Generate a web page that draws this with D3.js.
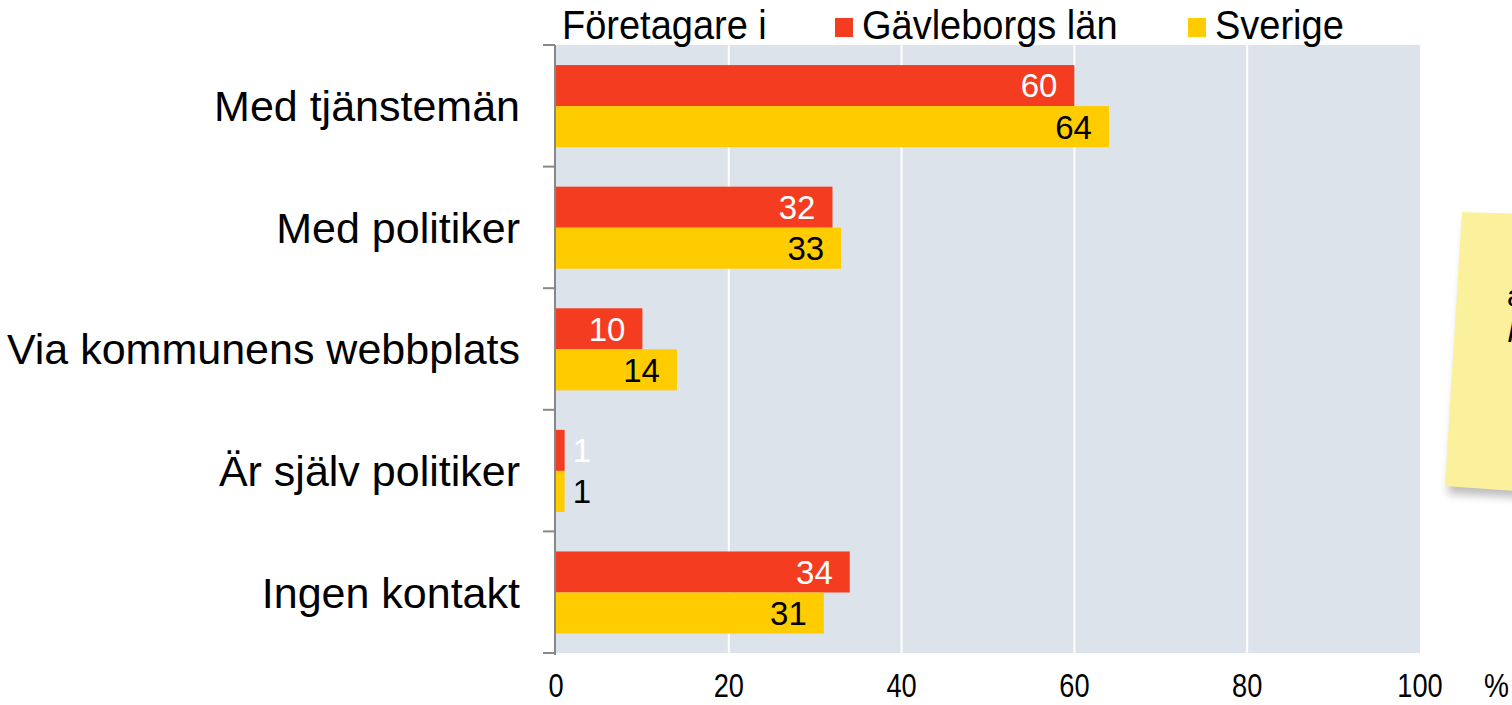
<!DOCTYPE html>
<html>
<head>
<meta charset="utf-8">
<script src="https://cdn.jsdelivr.net/npm/d3@7"></script>
<style>
  body { margin: 0; background: #fff; overflow: hidden; }
  svg { display: block; font-family: "Liberation Sans", Arial, sans-serif; }
</style>
</head>
<body>
<svg id="chart" width="1512" height="705"></svg>
<script>
// data
const categories = ["Med tjänstemän", "Med politiker", "Via kommunens webbplats", "Är själv politiker", "Ingen kontakt"];
const gavleborg = [60, 32, 10, 1, 34];
const sverige = [64, 33, 14, 1, 31];
const seriesNames = ["Gävleborgs län", "Sverige"];
const xTicks = [0, 20, 40, 60, 80, 100];

const svg = d3.select("#chart");
const margin = { top: 45, left: 556, right: 92, bottom: 52 };
const width = 1512 - margin.left - margin.right;
const height = 705 - margin.top - margin.bottom;

const red = "#f43d20";
const yellow = "#ffcc00";

const x = d3.scaleLinear().domain([0, 100]).range([0, width]);
const y = d3.scaleBand().domain(categories).range([0, height]);
const inner = d3.scaleBand().domain(seriesNames).range([y.bandwidth() * 0.165, y.bandwidth() * 0.84]);

const g = svg.append("g").attr("transform", `translate(${margin.left},${margin.top})`);

// plot background
g.append("rect")
    .attr("width", width)
    .attr("height", height)
    .attr("fill", "#dde3ea");

// vertical gridlines
g.selectAll(".grid")
    .data(xTicks.slice(1, -1))
    .enter().append("line")
    .attr("x1", d => x(d)).attr("x2", d => x(d))
    .attr("y1", 0).attr("y2", height)
    .attr("stroke", "#fff").attr("stroke-width", 2);

// bars
const rows = categories.map((c, i) => ({ c, values: [gavleborg[i], sverige[i]] }));
const rowG = g.selectAll(".row").data(rows).enter().append("g")
    .attr("transform", d => `translate(0,${y(d.c)})`);

rowG.selectAll("rect")
    .data(d => d.values.map((v, j) => ({ v, s: seriesNames[j] })))
    .enter().append("rect")
    .attr("x", 0)
    .attr("y", d => inner(d.s))
    .attr("width", d => x(d.v))
    .attr("height", inner.bandwidth())
    .attr("fill", d => d.s === seriesNames[0] ? red : yellow);

// value labels, inside the bar end, or just after it when the bar is too short
rowG.selectAll("text")
    .data(d => d.values.map((v, j) => ({ v, s: seriesNames[j] })))
    .enter().append("text")
    .attr("x", d => x(d.v) > 60 ? x(d.v) - 17 : x(d.v) + 8)
    .attr("y", d => inner(d.s) + inner.bandwidth() / 2)
    .attr("dy", "0.36em")
    .attr("text-anchor", d => x(d.v) > 60 ? "end" : "start")
    .attr("font-size", 33)
    .attr("fill", d => d.s === seriesNames[0] ? "#fff" : "#000")
    .text(d => d.v);

// left axis with ticks between categories
const bounds = categories.map(c => y(c)).concat([height]);
g.append("line")
    .attr("x1", -1).attr("x2", -1).attr("y1", 0).attr("y2", height + 2)
    .attr("stroke", "#888").attr("stroke-width", 2);
g.selectAll(".tick-l")
    .data(bounds)
    .enter().append("line")
    .attr("x1", -13).attr("x2", -1)
    .attr("y1", d => d).attr("y2", d => d)
    .attr("stroke", "#888").attr("stroke-width", 2);

// category labels
g.selectAll(".cat")
    .data(categories)
    .enter().append("text")
    .attr("x", -36)
    .attr("y", d => y(d) + y.bandwidth() / 2)
    .attr("dy", "0.36em")
    .attr("text-anchor", "end")
    .attr("font-size", 43)
    .attr("fill", "#000")
    .text(d => d);

// x axis labels (narrow, tall digits)
const xAxis = g.selectAll(".xt")
    .data(xTicks)
    .enter().append("g")
    .attr("transform", d => `translate(${x(d)},${height + 44}) scale(0.8,1)`);
xAxis.append("text")
    .attr("text-anchor", "middle")
    .attr("font-size", 34)
    .attr("fill", "#000")
    .text(d => d);

svg.append("text")
    .attr("font-size", 33)
    .attr("transform", "translate(1484,697) scale(0.85,1)")
    .text("%");

// legend
svg.append("text")
    .attr("transform", "translate(562,39) scale(0.95,1)")
    .attr("font-size", 40)
    .text("Företagare i");
const legend = svg.selectAll(".leg")
    .data(seriesNames)
    .enter().append("g")
    .attr("transform", (d, i) => `translate(${i === 0 ? 835 : 1188},0)`);
legend.append("rect")
    .attr("x", 0).attr("y", 18)
    .attr("width", 18).attr("height", 19)
    .attr("fill", (d, i) => i === 0 ? red : yellow);
legend.append("text")
    .attr("transform", "translate(27,39) scale(0.95,1)")
    .attr("font-size", 40)
    .text(d => d);

// sticky note, cut by the right edge
const defs = svg.append("defs");
const blur = defs.append("filter").attr("id", "shadow").attr("x", "-20%").attr("y", "-20%").attr("width", "140%").attr("height", "140%");
blur.append("feGaussianBlur").attr("stdDeviation", 4);
svg.append("polygon")
    .attr("points", "1466,220 1530,224 1530,498 1448,494")
    .attr("fill", "#888").attr("opacity", 0.55)
    .attr("filter", "url(#shadow)");
svg.append("polygon")
    .attr("points", "1462,212 1530,214 1530,492 1445,486")
    .attr("fill", "#fbf19d");
svg.append("text").attr("x", 1507).attr("y", 306).attr("font-size", 30).text("at");
svg.append("text").attr("x", 1507).attr("y", 342).attr("font-size", 30).attr("font-style", "italic").text("I");
</script>
</body>
</html>
